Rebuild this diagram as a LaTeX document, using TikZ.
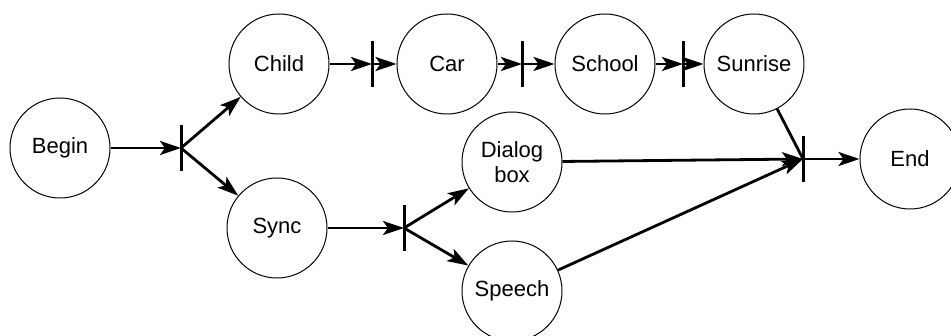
\documentclass[tikz,border=0pt]{standalone}
\usepackage{fontspec}
\setmainfont{Liberation Sans}
\usetikzlibrary{arrows.meta}

\begin{document}
\begin{tikzpicture}[x=1pt,y=-1pt,
  state/.style={circle,draw,line width=1pt,minimum size=100pt,inner sep=0pt,
    align=center,font=\fontsize{22}{25}\selectfont},
  conn/.style={line width=2.8pt,-{Stealth[length=21pt,width=14pt,inset=5pt]}},
  plain/.style={line width=2.8pt},
  bar/.style={line width=3pt}]
  \useasboundingbox (0,0) rectangle (951,336);
  \clip (0,0) rectangle (951,336);

  % states
  \node[state] (begin)   at (60,148)  {Begin};
  \node[state] (child)   at (279,64)  {Child};
  \node[state] (car)     at (447,64)  {Car};
  \node[state] (school)  at (605,64)  {School};
  \node[state] (sunrise) at (754,64)  {Sunrise};
  \node[state] (sync)    at (277,228) {Sync};
  \node[state] (dialog)  at (512,162) {Dialog\\box};
  \node[state] (speech)  at (512,291) {Speech};
  \node[state] (end)     at (910,159) {End};

  % fork / join bars
  \coordinate (j1) at (181,148);
  \coordinate (j2) at (372,64);
  \coordinate (j3) at (522,64);
  \coordinate (j4) at (683,64);
  \coordinate (j5) at (404,228);
  \coordinate (j6) at (803,159);
  \foreach \j in {j1,j2,j3,j4,j5,j6}
    \draw[bar] (\j) ++(0,-23) -- ++(0,46);

  % transitions
  \draw[conn] (begin) -- (j1);
  \draw[conn] (j1) -- (child);
  \draw[conn] (j1) -- (sync);
  \draw[conn] (child) -- (j2);
  \draw[conn] (j2) -- (car);
  \draw[conn] (car) -- (j3);
  \draw[conn] (j3) -- (school);
  \draw[conn] (school) -- (j4);
  \draw[conn] (j4) -- (sunrise);
  \draw[conn] (sync) -- (j5);
  \draw[conn] (j5) -- (dialog);
  \draw[conn] (j5) -- (speech);
  \draw[plain] (sunrise) -- (j6);
  \draw[conn] (dialog) -- (j6);
  \draw[conn] (speech) -- (j6);
  \draw[conn] (j6) -- (end);
\end{tikzpicture}
\end{document}
